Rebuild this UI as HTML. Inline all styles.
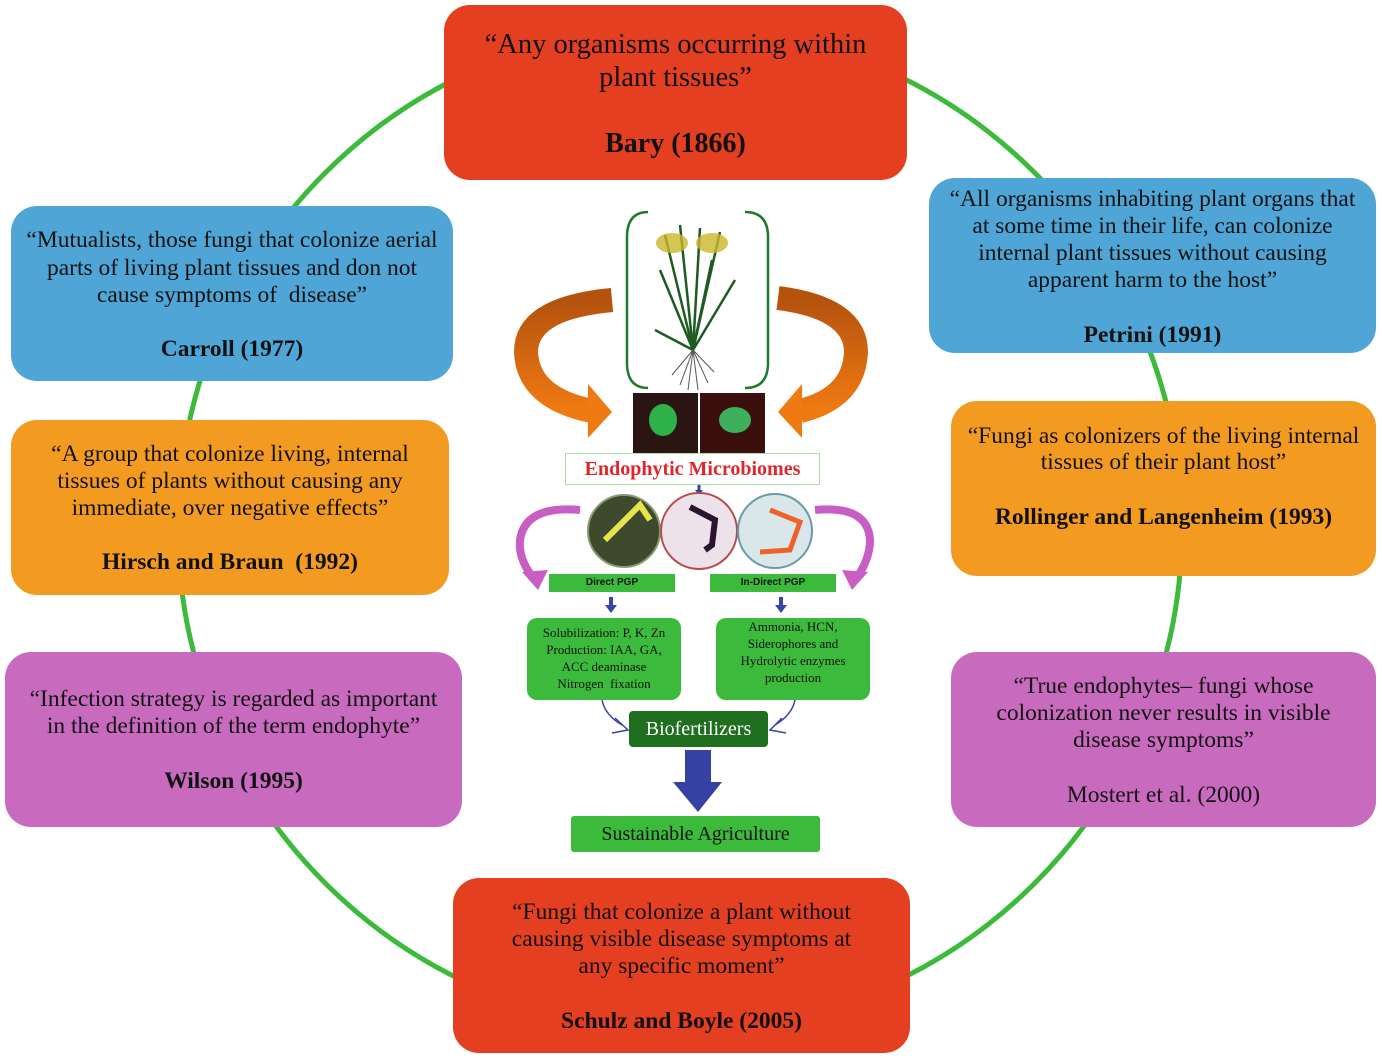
<!DOCTYPE html>
<html><head><meta charset="utf-8"><style>
body{margin:0;width:1382px;height:1058px;background:#fff;position:relative;overflow:hidden;font-family:"Liberation Serif",serif;color:#111}
.b{position:absolute;border-radius:26px}
.t{position:absolute;left:-10px;right:-10px;text-align:center;height:28px;line-height:28px;font-size:23.5px;white-space:nowrap}
.a{font-weight:bold}
.c{position:absolute;text-align:center;font-family:"Liberation Serif",serif}
</style></head><body>
<svg width="1382" height="1058" style="position:absolute;left:0;top:0">
<circle cx="680" cy="528" r="502" fill="none" stroke="#3cba3c" stroke-width="5"/>
</svg>

<div class="b" style="left:444px;top:5px;width:463px;height:175px;background:#e33f20">
<div class="t" style="top:26px;font-size:28.5px">“Any organisms occurring within</div>
<div class="t" style="top:59px;font-size:28.5px">plant tissues”</div>
<div class="t a" style="top:125px;font-size:28px">Bary (1866)</div></div>

<div class="b" style="left:11px;top:206px;width:442px;height:175px;background:#4fa5d5">
<div class="t" style="top:20px">“Mutualists, those fungi that colonize aerial</div>
<div class="t" style="top:48px">parts of living plant tissues and don not</div>
<div class="t" style="top:75px">cause symptoms of &nbsp;disease”</div>
<div class="t a" style="top:129px">Carroll (1977)</div></div>

<div class="b" style="left:929px;top:178px;width:447px;height:175px;background:#4fa5d5">
<div class="t" style="top:7px">“All organisms inhabiting plant organs that</div>
<div class="t" style="top:34px">at some time in their life, can colonize</div>
<div class="t" style="top:61px">internal plant tissues without causing</div>
<div class="t" style="top:88px">apparent harm to the host”</div>
<div class="t a" style="top:143px">Petrini (1991)</div></div>

<div class="b" style="left:11px;top:420px;width:438px;height:175px;background:#f39a21">
<div class="t" style="top:20px">“A group that colonize living, internal</div>
<div class="t" style="top:47px">tissues of plants without causing any</div>
<div class="t" style="top:74px">immediate, over negative effects”</div>
<div class="t a" style="top:128px">Hirsch and Braun &nbsp;(1992)</div></div>

<div class="b" style="left:951px;top:401px;width:425px;height:175px;background:#f39a21">
<div class="t" style="top:21px">“Fungi as colonizers of the living internal</div>
<div class="t" style="top:47px">tissues of their plant host”</div>
<div class="t a" style="top:102px">Rollinger and Langenheim (1993)</div></div>

<div class="b" style="left:5px;top:652px;width:457px;height:175px;background:#c86bbf">
<div class="t" style="top:33px">“Infection strategy is regarded as important</div>
<div class="t" style="top:60px">in the definition of the term endophyte”</div>
<div class="t a" style="top:115px">Wilson (1995)</div></div>

<div class="b" style="left:951px;top:652px;width:425px;height:175px;background:#c86bbf">
<div class="t" style="top:20px">“True endophytes– fungi whose</div>
<div class="t" style="top:47px">colonization never results in visible</div>
<div class="t" style="top:74px">disease symptoms”</div>
<div class="t" style="top:129px">Mostert et al. (2000)</div></div>

<div class="b" style="left:453px;top:878px;width:457px;height:175px;background:#e33f20">
<div class="t" style="top:20px">“Fungi that colonize a plant without</div>
<div class="t" style="top:47px">causing visible disease symptoms at</div>
<div class="t" style="top:74px">any specific moment”</div>
<div class="t a" style="top:129px">Schulz and Boyle (2005)</div></div>

<svg width="1382" height="1058" style="position:absolute;left:0;top:0">
<defs>
<linearGradient id="og" x1="0" y1="0" x2="0" y2="1"><stop offset="0" stop-color="#b4520e"/><stop offset="1" stop-color="#f07a12"/></linearGradient>
</defs>
<path d="M648 212 Q628 212 627 235 L627 365 Q628 388 648 388" fill="none" stroke="#1e7a2a" stroke-width="2.5"/>
<path d="M745 212 Q767 212 768 235 L768 365 Q767 388 745 388" fill="none" stroke="#1e7a2a" stroke-width="2.5"/>
<g stroke="#1f5a22" stroke-width="2.5" fill="none">
<path d="M693 350 L665 235"/><path d="M693 350 L680 225"/><path d="M693 350 L700 228"/><path d="M693 350 L720 232"/><path d="M693 350 L735 280"/><path d="M693 350 L655 330"/><path d="M693 350 L660 270"/><path d="M693 350 L712 260"/>
</g>
<ellipse cx="672" cy="243" rx="16" ry="10" fill="#c9b72a" opacity=".8"/>
<ellipse cx="712" cy="243" rx="16" ry="10" fill="#c9b72a" opacity=".8"/>
<g stroke="#555" stroke-width="1" fill="none"><path d="M693 350 L680 385 M693 350 L688 390 M693 350 L698 390 M693 350 L708 383 M693 350 L672 375 M693 350 L714 372"/></g>
<!-- orange arrows -->
<path d="M612 300 Q526 308 526 352 Q528 398 592 411" fill="none" stroke="url(#og)" stroke-width="24"/>
<path d="M588 384 L612 412 L588 438Z" fill="#f07a12"/>
<path d="M778 298 Q856 308 856 352 Q854 398 800 411" fill="none" stroke="url(#og)" stroke-width="24"/>
<path d="M802 384 L778 412 L802 438Z" fill="#f07a12"/>
<rect x="633" y="393" width="65" height="60" fill="#2a1512"/>
<ellipse cx="663" cy="420" rx="14" ry="16" fill="#2fb14a"/>
<rect x="700" y="393" width="65" height="60" fill="#3a0f0d"/>
<ellipse cx="735" cy="420" rx="16" ry="13" fill="#3cb05a"/>
<path d="M699 484 L699 492" stroke="#3544a8" stroke-width="3"/><path d="M695 490 L703 490 L699 495Z" fill="#3544a8"/>
<circle cx="624" cy="531" r="36" fill="#3e4a2e" stroke="#8a9a70" stroke-width="2"/>
<path d="M605 540 L640 505 L650 520" stroke="#e8e34a" stroke-width="6" fill="none"/>
<circle cx="699" cy="531" r="38" fill="#ede2ea" stroke="#b64a4a" stroke-width="2"/>
<path d="M690 507 L715 520 L712 545 L705 550" stroke="#2a1430" stroke-width="6" fill="none"/>
<circle cx="775" cy="531" r="37" fill="#d9e6ea" stroke="#6a9aa8" stroke-width="2"/>
<path d="M770 510 L800 522 L790 550 L760 552" stroke="#f0612a" stroke-width="5" fill="none"/>
<path d="M580 510 Q525 505 520 540 Q518 560 535 580" fill="none" stroke="#c85ec4" stroke-width="8"/>
<path d="M522 572 L548 570 L538 590Z" fill="#c85ec4"/>
<path d="M815 510 Q868 505 870 540 Q870 560 855 580" fill="none" stroke="#c85ec4" stroke-width="8"/>
<path d="M868 572 L842 570 L852 590Z" fill="#c85ec4"/>
<path d="M611 597 L611 607" stroke="#3544a8" stroke-width="4"/><path d="M605 605 L617 605 L611 613Z" fill="#3544a8"/>
<path d="M781 597 L781 607" stroke="#3544a8" stroke-width="4"/><path d="M775 605 L787 605 L781 613Z" fill="#3544a8"/>
<path d="M602 700 Q605 715 622 725" stroke="#3544a8" stroke-width="1.5" fill="none"/>
<path d="M615 718 L628 730 L612 733" stroke="#3544a8" stroke-width="1.5" fill="none"/>
<path d="M795 700 Q792 715 775 725" stroke="#3544a8" stroke-width="1.5" fill="none"/>
<path d="M782 718 L770 730 L786 733" stroke="#3544a8" stroke-width="1.5" fill="none"/>
<path d="M685 750 L711 750 L711 782 L722 782 L698 812 L673 782 L685 782Z" fill="#3542a3"/>
</svg>

<div class="c" style="left:565px;top:453px;width:253px;height:30px;border:1px solid #a7e0a7;background:#fff;color:#e0262a;font-weight:bold;font-size:20px;line-height:30px">Endophytic Microbiomes</div>
<div class="c" style="left:549px;top:574px;width:126px;height:18px;background:#3cba3c;font-family:'Liberation Sans',sans-serif;font-weight:bold;font-size:10px;line-height:18px">Direct PGP</div>
<div class="c" style="left:710px;top:574px;width:126px;height:18px;background:#3cba3c;font-family:'Liberation Sans',sans-serif;font-weight:bold;font-size:10px;line-height:18px">In-Direct PGP</div>
<div class="c" style="left:527px;top:618px;width:154px;height:82px;background:#3cba3c;border-radius:10px;font-size:13px;line-height:17px;padding-top:6px;box-sizing:border-box">Solubilization: P, K, Zn<br>Production: IAA, GA,<br>ACC deaminase<br>Nitrogen &nbsp;fixation</div>
<div class="c" style="left:716px;top:618px;width:154px;height:82px;background:#3cba3c;border-radius:10px;font-size:13px;line-height:17px;padding-top:0px;box-sizing:border-box">Ammonia, HCN,<br>Siderophores and<br>Hydrolytic enzymes<br>production</div>
<div class="c" style="left:629px;top:711px;width:139px;height:36px;background:#1f6f1f;border-radius:4px;color:#fff;font-size:20px;line-height:36px">Biofertilizers</div>
<div class="c" style="left:571px;top:816px;width:249px;height:36px;background:#3cba3c;border-radius:3px;font-size:20px;line-height:36px">Sustainable Agriculture</div>
</body></html>
